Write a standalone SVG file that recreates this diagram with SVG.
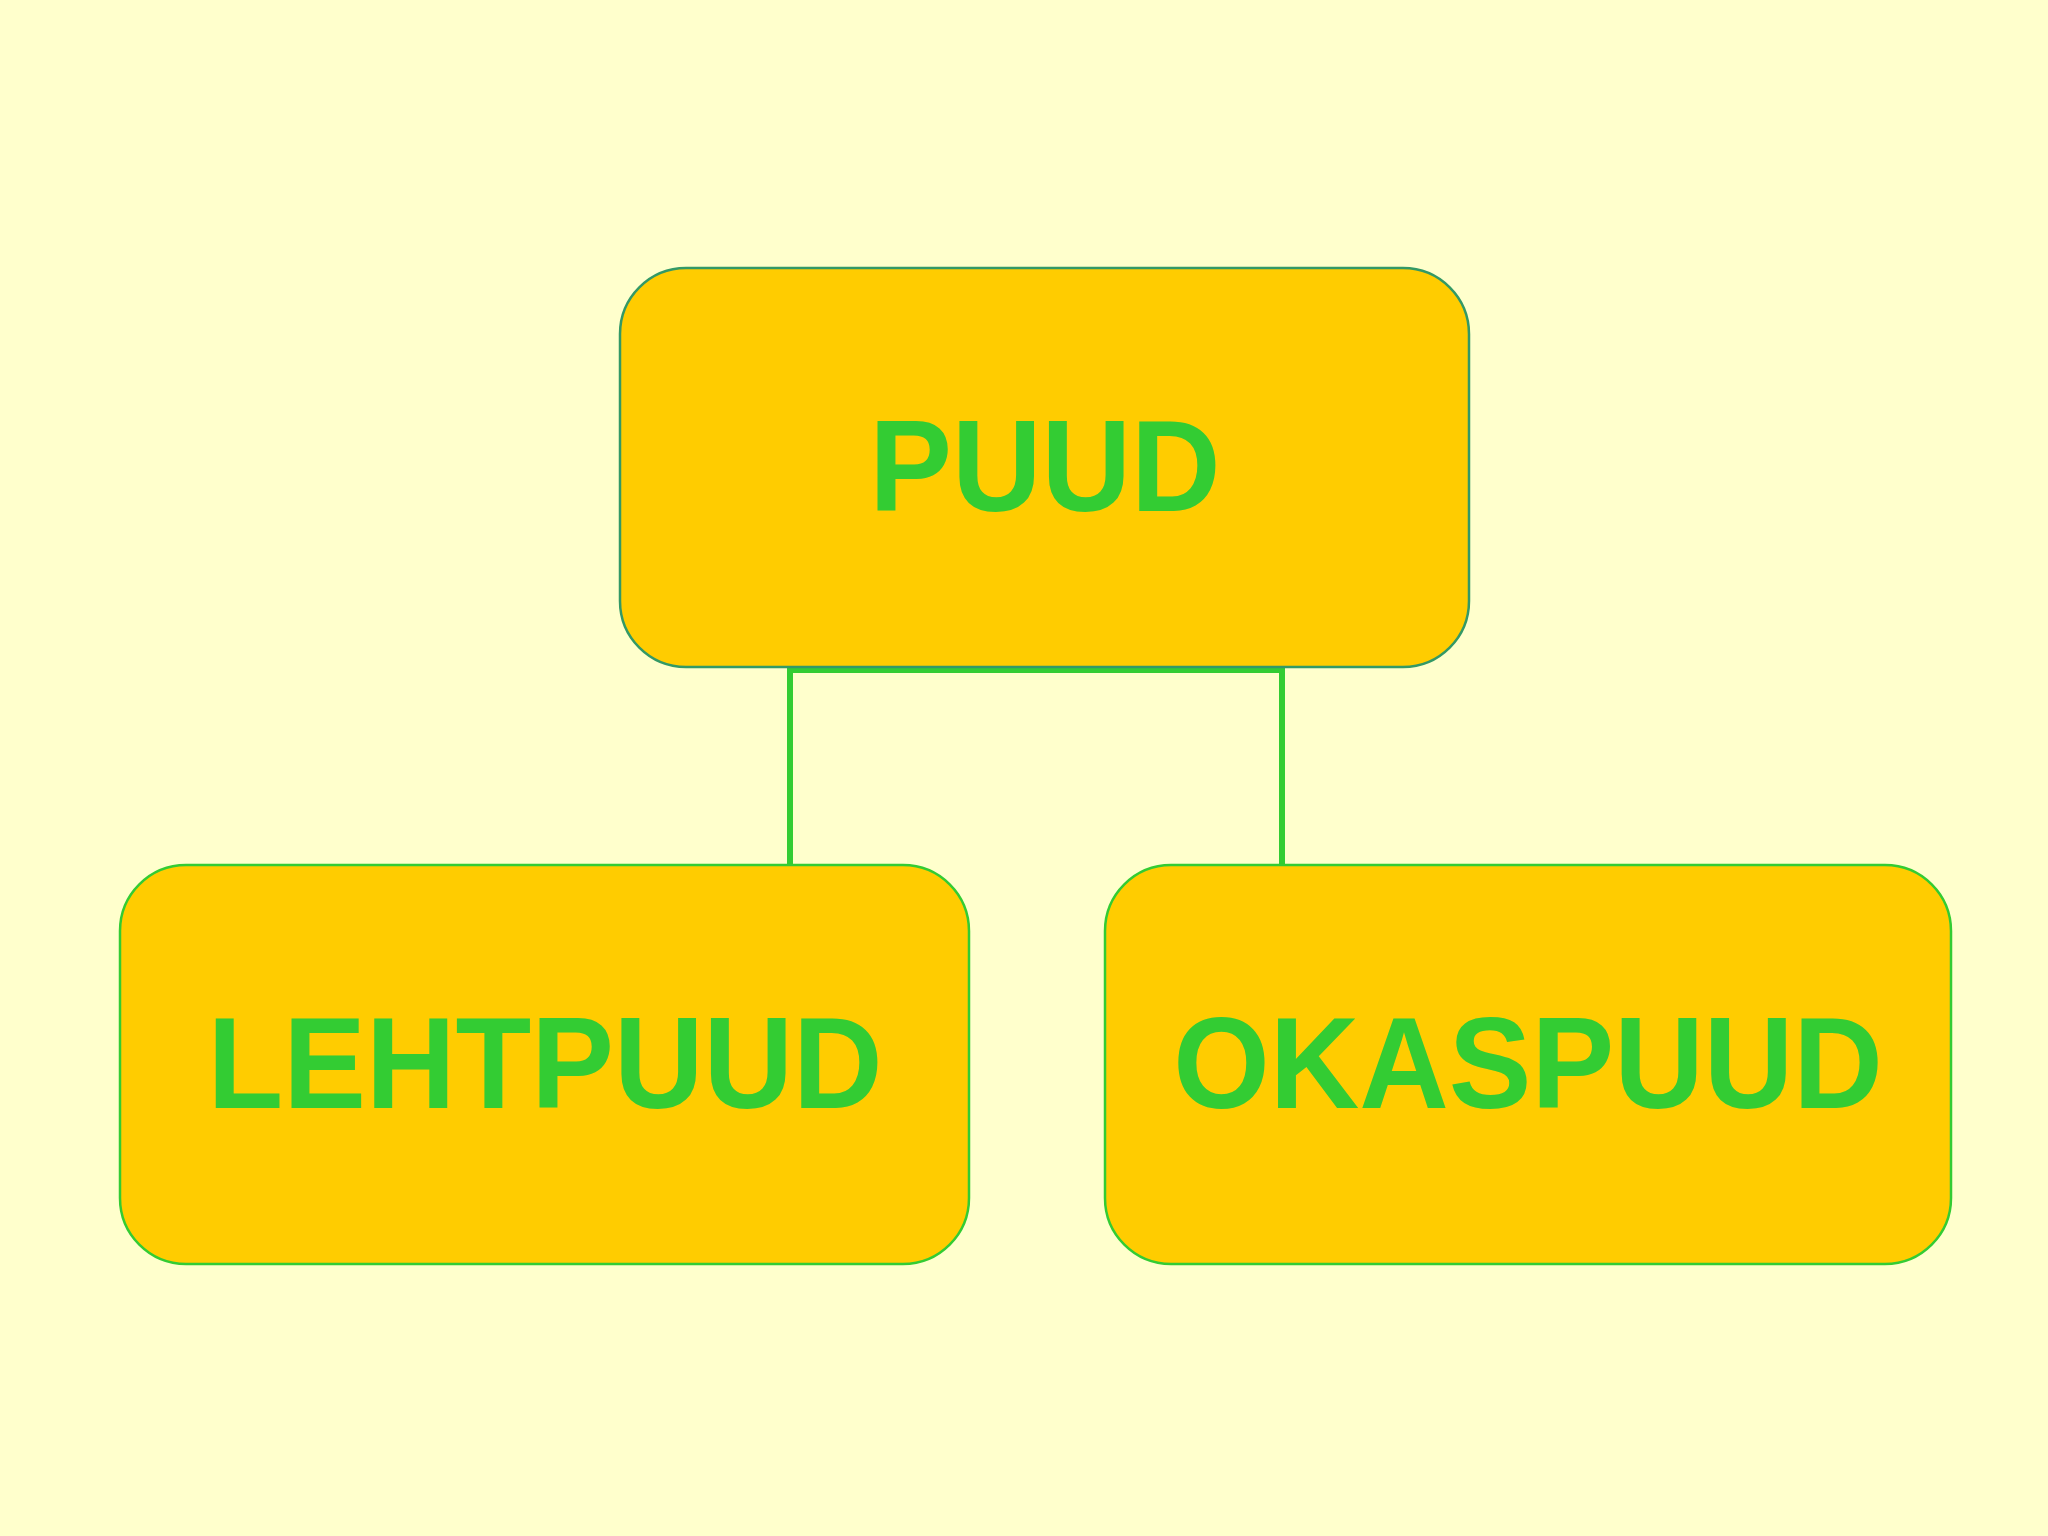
<svg xmlns="http://www.w3.org/2000/svg" width="2048" height="1536" viewBox="0 0 2048 1536">
<style>
.box{fill:#ffcc00;stroke:#33cc33;stroke-width:2.5}
.top{stroke:#339966}
.lbl{font-family:"Liberation Sans",Arial,sans-serif;font-weight:bold;font-size:124px;fill:#33cc33;text-anchor:middle}
.conn{fill:none;stroke:#33cc33;stroke-width:6}
</style>
<rect width="2048" height="1536" fill="#ffffcc"/>
<g id="connectors">
<path class="conn" d="M790,865 V670 H1282 V865"/>
</g>
<g id="node-puud">
<rect class="box top" x="620" y="268" width="849" height="399" rx="66" ry="66"/>
<text class="lbl" transform="translate(1045,511) scale(1,1.05)">PUUD</text>
</g>
<g id="node-lehtpuud">
<rect class="box" x="120" y="865" width="849" height="399" rx="66" ry="66"/>
<text class="lbl" transform="translate(545,1108) scale(1,1.05)">LEHTPUUD</text>
</g>
<g id="node-okaspuud">
<rect class="box" x="1105" y="865" width="846" height="399" rx="66" ry="66"/>
<text class="lbl" transform="translate(1528,1108) scale(1,1.05)">OKASPUUD</text>
</g>
</svg>
